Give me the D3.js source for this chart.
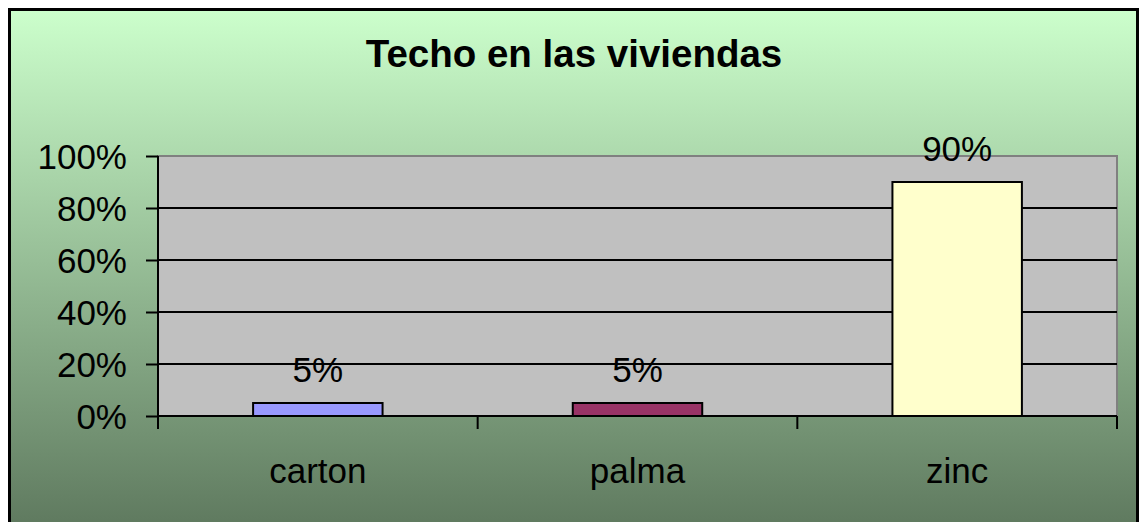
<!DOCTYPE html>
<html>
<head>
<meta charset="utf-8">
<script src="https://cdn.jsdelivr.net/npm/d3@7"></script>
<style>
  html, body { margin: 0; padding: 0; background: #ffffff; }
  svg { display: block; font-family: Arial, "Liberation Sans", sans-serif; }
</style>
</head>
<body>
<div id="chart"></div>
<script>
  // ---- data ----
  const categories = ["carton", "palma", "zinc"];
  const values = [0.05, 0.05, 0.90];
  const barColors = ["#9999ff", "#993366", "#ffffcc"];
  const yTicks = [0, 0.2, 0.4, 0.6, 0.8, 1.0];
  const title = "Techo en las viviendas";

  const width = 1140, height = 522;
  const plot = { left: 158, right: 1117, top: 156, bottom: 416 };
  const labelSize = "35px";

  const svg = d3.select("#chart").append("svg")
    .attr("width", width)
    .attr("height", height);

  // background gradient
  const defs = svg.append("defs");
  const grad = defs.append("linearGradient")
    .attr("id", "bg")
    .attr("x1", 0).attr("y1", 0).attr("x2", 0).attr("y2", 1);
  grad.append("stop").attr("offset", "0%").attr("stop-color", "#ccffcc");
  grad.append("stop").attr("offset", "100%").attr("stop-color", "#5c765c");

  svg.append("rect")
    .attr("x", 9.5).attr("y", 9.5)
    .attr("width", 1128).attr("height", 530)
    .attr("fill", "url(#bg)")
    .attr("stroke", "#000")
    .attr("stroke-width", 3);

  // title
  svg.append("text")
    .attr("x", 574).attr("y", 67)
    .attr("text-anchor", "middle")
    .attr("font-size", "38.5px")
    .attr("font-weight", "bold")
    .text(title);

  // scales
  const x = d3.scaleBand()
    .domain(categories)
    .range([plot.left, plot.right])
    .paddingInner(0.595)
    .paddingOuter(0.2975);

  const y = d3.scaleLinear()
    .domain([0, 1])
    .range([plot.bottom, plot.top]);

  // plot area
  svg.append("rect")
    .attr("x", plot.left).attr("y", plot.top)
    .attr("width", plot.right - plot.left)
    .attr("height", plot.bottom - plot.top)
    .attr("fill", "#c0c0c0")
    .attr("stroke", "#808080")
    .attr("stroke-width", 2);

  // gridlines
  svg.append("g")
    .selectAll("line")
    .data(yTicks.filter(d => d > 0 && d < 1))
    .enter().append("line")
    .attr("x1", plot.left).attr("x2", plot.right)
    .attr("y1", d => y(d)).attr("y2", d => y(d))
    .attr("stroke", "#000")
    .attr("stroke-width", 2);

  // bars
  svg.append("g")
    .selectAll("rect")
    .data(values)
    .enter().append("rect")
    .attr("x", (d, i) => x(categories[i]))
    .attr("y", d => y(d))
    .attr("width", x.bandwidth())
    .attr("height", d => y(0) - y(d))
    .attr("fill", (d, i) => barColors[i])
    .attr("stroke", "#000")
    .attr("stroke-width", 2);

  // data labels
  svg.append("g")
    .selectAll("text")
    .data(values)
    .enter().append("text")
    .attr("x", (d, i) => x(categories[i]) + x.bandwidth() / 2)
    .attr("y", d => y(d) - 21)
    .attr("text-anchor", "middle")
    .attr("font-size", labelSize)
    .text(d => d3.format(".0%")(d));

  // y axis
  const yAxis = svg.append("g")
    .attr("transform", `translate(${plot.left},0)`)
    .call(d3.axisLeft(y).tickValues(yTicks).tickFormat(d3.format(".0%"))
      .tickSize(12).tickPadding(19));
  yAxis.select(".domain").attr("stroke", "#000").attr("stroke-width", 2)
    .attr("d", `M0,${plot.top}V${plot.bottom}`);
  yAxis.selectAll(".tick line").attr("stroke", "#000").attr("stroke-width", 2);
  yAxis.selectAll(".tick text")
    .attr("font-size", labelSize)
    .attr("font-family", "Arial, 'Liberation Sans', sans-serif")
    .attr("fill", "#000")
    .attr("dy", "0.36em");

  // x axis: line, boundary ticks, labels
  const xAxis = svg.append("g");
  xAxis.append("line")
    .attr("x1", plot.left).attr("x2", plot.right)
    .attr("y1", plot.bottom).attr("y2", plot.bottom)
    .attr("stroke", "#000").attr("stroke-width", 2);
  const boundaries = categories.map(c => x(c) - x.step() * x.paddingInner() / 2)
    .concat([plot.right]);
  xAxis.selectAll("line.tick")
    .data(boundaries)
    .enter().append("line")
    .attr("class", "tick")
    .attr("x1", d => d).attr("x2", d => d)
    .attr("y1", plot.bottom).attr("y2", plot.bottom + 13)
    .attr("stroke", "#000").attr("stroke-width", 2);
  xAxis.selectAll("text")
    .data(categories)
    .enter().append("text")
    .attr("x", d => x(d) + x.bandwidth() / 2)
    .attr("y", 483)
    .attr("text-anchor", "middle")
    .attr("font-size", labelSize)
    .text(d => d);
</script>
</body>
</html>
